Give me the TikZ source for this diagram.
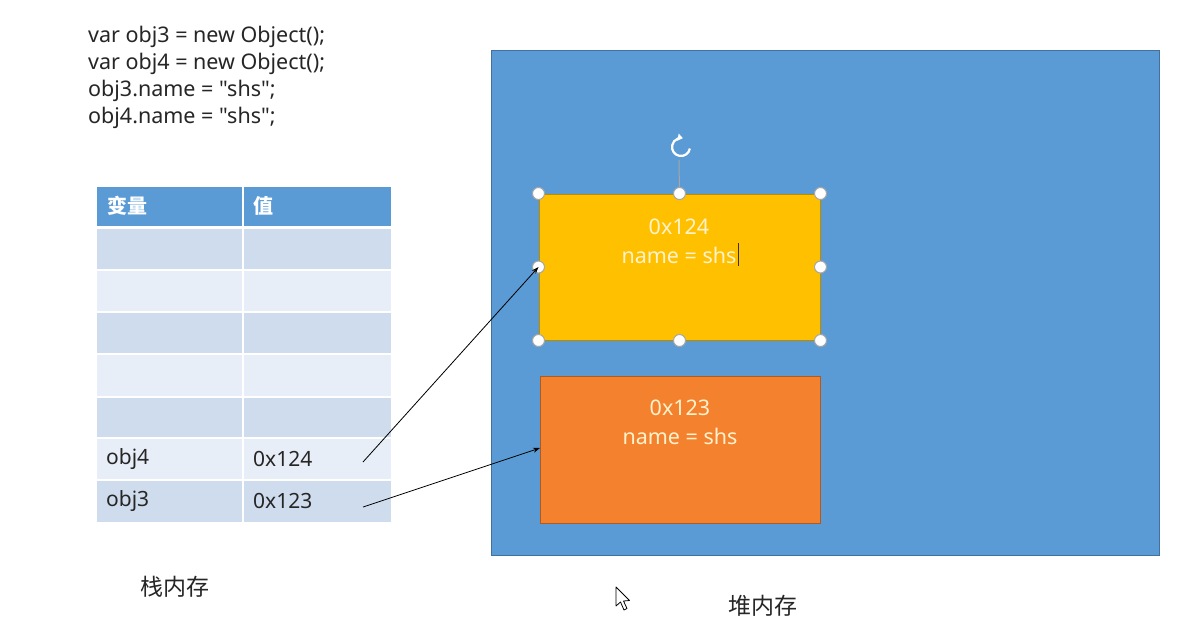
\documentclass[tikz,border=0pt]{standalone}
\usepackage{fontspec}
\setmainfont{Noto Sans}[Ligatures=TeXOff]
\newfontfamily\cjk{Noto Sans CJK SC}
\usetikzlibrary{arrows.meta}
\definecolor{hdr}{HTML}{5B9BD5}
\definecolor{rowdark}{HTML}{CFDCEE}
\definecolor{rowlight}{HTML}{E8EEF7}
\definecolor{heap}{HTML}{5B9BD5}
\definecolor{heapedge}{HTML}{41719C}
\definecolor{yel}{HTML}{FFC000}
\definecolor{yeledge}{HTML}{BC8C00}
\definecolor{org}{HTML}{F4812E}
\definecolor{orgedge}{HTML}{AE5A21}
\definecolor{txtlight}{HTML}{FFF2CC}
\begin{document}
\begin{tikzpicture}[x=1pt,y=-1pt,
  code/.style={anchor=west,inner sep=0pt,font=\fontsize{21.5}{21.5}\selectfont,text=black!85},
  cell/.style={anchor=west,inner sep=0pt,font=\fontsize{21}{21}\selectfont,text=black!85},
  hcell/.style={anchor=west,inner sep=0pt,font=\cjk\fontsize{20}{20}\selectfont\bfseries,text=white},
  boxtxt/.style={align=center,inner sep=0pt,font=\fontsize{21.5}{29}\selectfont,text=txtlight},
  handle/.style={circle,draw=gray!70,fill=white,line width=1pt,minimum size=12pt,inner sep=0pt},
  ptr/.style={-{Stealth[length=7pt,width=5pt]},line width=0.8pt,black},
  caption/.style={inner sep=0pt,font=\cjk\fontsize{23}{23}\selectfont,text=black!85}]
\useasboundingbox (0,0) rectangle (1199,627);
\fill[white] (0,0) rectangle (1199,627);
% code
\node[code] (c1) at (88,37) {var obj3 = new Object();};
\node[code] (c2) at (88,64) {var obj4 = new Object();};
\node[code] (c3) at (88,91) {obj3.name = "shs";};
\node[code] (c4) at (88,118) {obj4.name = "shs";};
% table
\fill[hdr] (97,187) rectangle (391,227);
\foreach \ya/\yb/\c in {229/270/rowdark,270/312/rowlight,312/354/rowdark,354/397/rowlight,397/438/rowdark,438/480/rowlight,480/522/rowdark}{
  \fill[\c] (97,\ya) rectangle (391,\yb);
}
\foreach \y in {227,270,312,354,397,438,480}{\draw[white,line width=1.5pt] (97,\y) -- (391,\y);}
\draw[white,line width=1.5pt] (243,187) -- (243,522);
\node[hcell] (h1) at (107,206) {变量};
\node[hcell] (h2) at (253,206) {值};
\node[cell] (v4) at (106,459) {obj4};
\node[cell] (a4) at (253,459) {0x124};
\node[cell] (v3) at (106,501) {obj3};
\node[cell] (a3) at (253,501) {0x123};
\coordinate (s4) at (363,462);
\coordinate (s3) at (363,507);
% heap
\draw[heapedge,fill=heap,line width=1pt] (491,50) rectangle (1159,555);
\node[draw=yeledge,fill=yel,line width=1pt,minimum width=281pt,minimum height=146pt,inner sep=0pt] (o4) at (679.5,267) {};
\node[boxtxt] (t4) at (679,241) {0x124\\name = shs};
\draw[black!80,line width=1pt] (738,243) -- (738,266);
\node[draw=orgedge,fill=org,line width=0.8pt,minimum width=280pt,minimum height=147pt,inner sep=0pt] (o3) at (680,449.5) {};
\node[boxtxt] (t3) at (680,422) {0x123\\name = shs};
% selection handles
\draw[gray!70,line width=1pt] (o4.north) -- (679,160);
\foreach \p in {north west,north,north east,west,east,south west,south,south east}{
  \node[handle] at (o4.\p) {};
}
\draw[white,line width=2.2pt,-{Triangle[length=5pt,width=7pt]}] (681,147) ++(10:9) arc (10:282:9);
% pointers
\draw[ptr] (s4) -- (o4.west);
\draw[ptr] (s3) -- (540,448);
% captions
\node[caption] (l1) at (175,587) {栈内存};
\node[caption] (l2) at (763,606) {堆内存};
% mouse cursor
\draw[black,fill=white,line width=0.8pt,line join=round] (616,587) -- (616,606) -- (620.5,602) -- (624,610) -- (627,608.5) -- (623.5,601) -- (629.5,600.5) -- cycle;
\end{tikzpicture}
\end{document}
